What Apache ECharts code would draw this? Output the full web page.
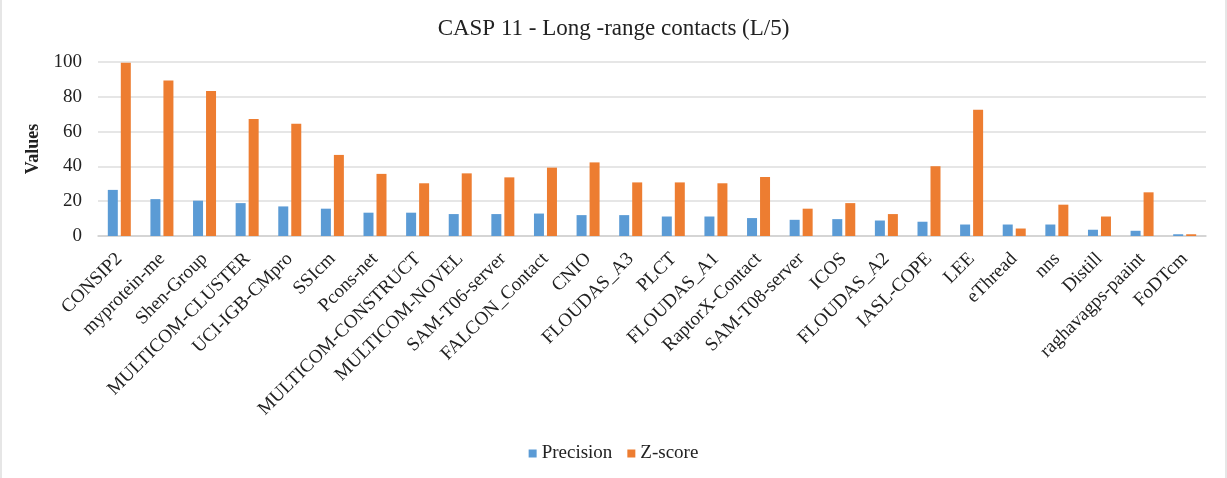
<!DOCTYPE html>
<html>
<head>
<meta charset="utf-8">
<script src="https://cdn.jsdelivr.net/npm/echarts@6/dist/echarts.min.js"></script>
<style>
html,body{margin:0;padding:0;background:#fff;}
#c{width:1227px;height:478px;box-sizing:border-box;border-left:2px solid #e6e6e6;border-right:2px solid #e6e6e6;}
</style>
</head>
<body>
<div id="c"></div>
<script>
var categories = ["CONSIP2","myprotein-me","Shen-Group","MULTICOM-CLUSTER","UCI-IGB-CMpro","SSIcm","Pcons-net","MULTICOM-CONSTRUCT","MULTICOM-NOVEL","SAM-T06-server","FALCON_Contact","CNIO","FLOUDAS_A3","PLCT","FLOUDAS_A1","RaptorX-Contact","SAM-T08-server","ICOS","FLOUDAS_A2","IASL-COPE","LEE","eThread","nns","Distill","raghavagps-paaint","FoDTcm"];
var precision = [26.5,21.2,20.3,18.9,17.0,15.7,13.4,13.4,12.6,12.6,12.9,12.0,12.0,11.2,11.2,10.3,9.3,9.7,8.9,8.2,6.6,6.6,6.6,3.6,3.0,1.0];
var zscore = [99.5,89.4,83.3,67.3,64.5,46.6,35.7,30.3,36.0,33.7,39.3,42.3,30.8,30.8,30.3,33.9,15.7,18.9,12.6,40.1,72.5,4.3,18.0,11.2,25.1,1.0];
var yTicks = [0,20,40,60,80,100];

var serif = "'Liberation Serif','DejaVu Serif',serif";
var chart = echarts.init(document.getElementById('c'));
chart.setOption({
  animation:false,
  title:{text:"CASP 11 - Long -range contacts (L/5)",left:'center',top:12,
    textStyle:{fontFamily:serif,fontSize:23,fontWeight:'normal',color:'#222'}},
  legend:{top:439,left:'center',itemWidth:8,itemHeight:8,itemGap:15,icon:'rect',
    textStyle:{fontFamily:serif,fontSize:19,color:'#222'}},
  grid:{left:96,right:19,top:62,bottom:242},
  xAxis:{type:'category',data:categories,
    axisLine:{lineStyle:{color:'#d0d0d0',width:1.5}},
    axisTick:{show:false},
    axisLabel:{rotate:45,interval:0,margin:20,fontFamily:serif,fontSize:19,color:'#222'}},
  yAxis:{type:'value',min:yTicks[0],max:yTicks[yTicks.length-1],interval:20,
    name:'Values',nameLocation:'middle',nameGap:55,nameRotate:90,
    nameTextStyle:{fontFamily:serif,fontSize:18,fontWeight:'bold',color:'#222'},
    axisLine:{show:false},axisTick:{show:false},
    splitLine:{lineStyle:{color:'#dedede',width:1.5}},
    axisLabel:{fontFamily:serif,fontSize:19,color:'#222',margin:16}},
  series:[
    {name:'Precision',type:'bar',data:precision,barWidth:10,barGap:'30%',itemStyle:{color:'#5B9BD5'}},
    {name:'Z-score',type:'bar',data:zscore,barWidth:10,itemStyle:{color:'#ED7D31'}}
  ]
});
</script>
</body>
</html>
